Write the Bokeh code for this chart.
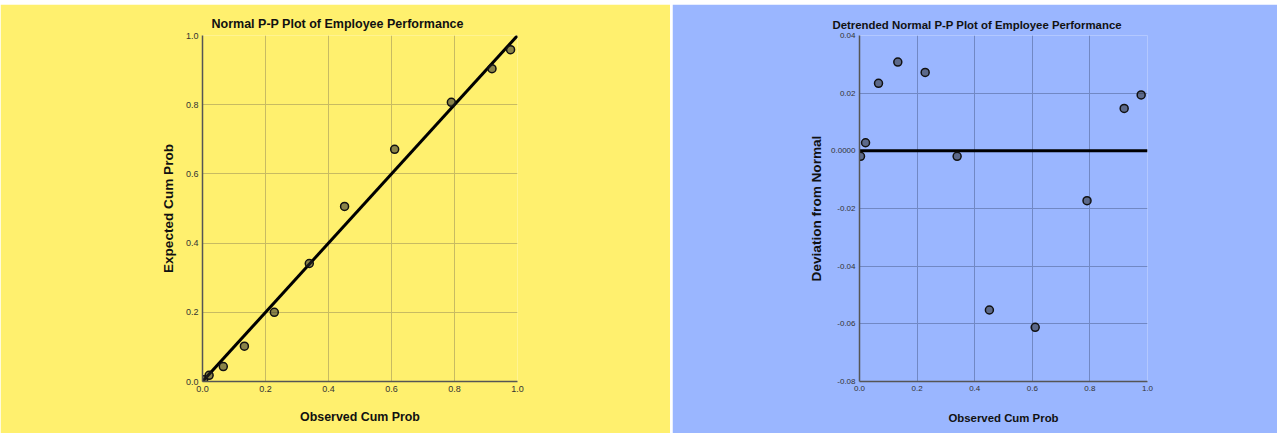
from bokeh.plotting import figure
from bokeh.layouts import row
from bokeh.models import FixedTicker, PrintfTickFormatter, Range1d
from bokeh.embed import file_html
from bokeh.resources import INLINE

# ---- data ----
observed = [0.0035, 0.021, 0.066, 0.133, 0.228, 0.339, 0.451, 0.610, 0.790, 0.919, 0.978]
expected = [0.0054, 0.018, 0.043, 0.102, 0.200, 0.341, 0.506, 0.671, 0.807, 0.904, 0.959]
deviation = [-0.0019, 0.0028, 0.0234, 0.0308, 0.0272, -0.0019, -0.0552, -0.0612, -0.0173, 0.0147, 0.0194]

ref_x = [0.0, 1.0]
ref_y = [0.0, 1.0]
zero_y = [0.0, 0.0]

x_ticks = [0.0, 0.2, 0.4, 0.6, 0.8, 1.0]
y1_ticks = [0.0, 0.2, 0.4, 0.6, 0.8, 1.0]
y2_ticks = [-0.08, -0.06, -0.04, -0.02, 0.0, 0.02, 0.04]

FONT = "Liberation Sans"
YELLOW = "#FFF06E"
BLUE = "#9AB6FF"


def style(p, bg, grid, title, offset, ylabel, ystandoff, xstandoff, title_size, xlab_size, tick_size):
    p.background_fill_color = bg
    p.border_fill_color = bg
    p.outline_line_color = None
    p.title.text = title
    p.title.align = "left"
    p.title.offset = offset
    p.title.text_font = FONT
    p.title.text_font_size = title_size
    p.title.text_font_style = "bold"
    p.title.text_color = "#111111"
    p.title.standoff = 9
    for g in (p.xgrid, p.ygrid):
        g.grid_line_color = grid
        g.grid_line_width = 1
    for ax in (p.xaxis, p.yaxis):
        ax.axis_line_color = "#555555"
        ax.axis_line_width = 1.5
        ax.major_tick_out = 0
        ax.major_tick_in = 0
        ax.minor_tick_out = 0
        ax.minor_tick_in = 0
        ax.major_label_standoff = 4
        ax.major_label_text_font = FONT
        ax.major_label_text_font_size = tick_size
        ax.major_label_text_color = "#333333"
        ax.axis_label_text_font = FONT
        ax.axis_label_text_font_style = "bold"
        ax.axis_label_text_color = "#111111"
    p.xaxis.axis_label_text_font_size = xlab_size
    p.yaxis.axis_label_text_font_size = "13.6px"
    p.xaxis.axis_label_standoff = xstandoff
    p.yaxis.axis_label_standoff = ystandoff
    p.xaxis.axis_label = "Observed Cum Prob"
    p.yaxis.axis_label = ylabel
    p.xaxis.ticker = FixedTicker(ticks=x_ticks)
    p.xaxis.formatter = PrintfTickFormatter(format="%.1f")
    p.xgrid.ticker = FixedTicker(ticks=x_ticks)


# ---- left: Normal P-P plot ----
p1 = figure(width=670, height=429, x_range=Range1d(0, 1), y_range=Range1d(0, 1),
            output_backend="svg", toolbar_location=None,
            min_border_left=202, min_border_right=153,
            min_border_top=31, min_border_bottom=51)
style(p1, YELLOW, "#C8BB62", "Normal P-P Plot of Employee Performance", 9,
      "Expected Cum Prob", 7, 15, "12.5px", "12.4px", "9px")
p1.yaxis.ticker = FixedTicker(ticks=y1_ticks)
p1.ygrid.ticker = FixedTicker(ticks=y1_ticks)
p1.yaxis.formatter = PrintfTickFormatter(format="%.1f")
p1.line(ref_x, ref_y, line_color="black", line_width=3)
p1.scatter(observed, expected, size=8, fill_color="#2a2a2a", fill_alpha=0.55,
           line_color="#111111", line_width=1.5)
p1.margin = (4, 0, 2, 0)

# ---- right: Detrended Normal P-P plot ----
p2 = figure(width=605, height=429, x_range=Range1d(0, 1), y_range=Range1d(-0.08, 0.04),
            output_backend="svg", toolbar_location=None,
            min_border_left=187, min_border_right=130,
            min_border_top=30, min_border_bottom=52)
style(p2, BLUE, "#7188C4", "Detrended Normal P-P Plot of Employee Performance", -27,
      "Deviation from Normal", 4, 18, "11.4px", "11.4px", "8px")
p2.yaxis.ticker = FixedTicker(ticks=y2_ticks)
p2.ygrid.ticker = FixedTicker(ticks=y2_ticks)
p2.yaxis.formatter = PrintfTickFormatter(format="%.2f")
p2.yaxis.major_label_overrides = {0: "0.0000"}
p2.line(ref_x, zero_y, line_color="black", line_width=3)
p2.scatter(observed, deviation, size=8, fill_color="#2a2a2a", fill_alpha=0.55,
           line_color="#111111", line_width=1.5)
p2.margin = (4, 0, 2, 2)

layout = row(p1, p2)
open("out.html", "w").write(file_html(layout, INLINE))
